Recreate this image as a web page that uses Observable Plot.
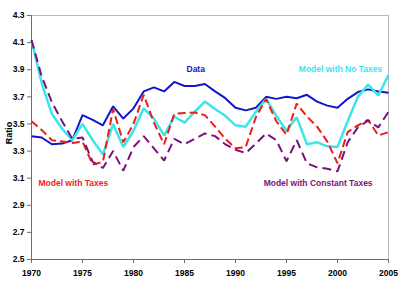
<!DOCTYPE html>
<html>
<head>
<meta charset="utf-8">
<script src="https://cdn.jsdelivr.net/npm/d3@7"></script>
<script src="https://cdn.jsdelivr.net/npm/@observablehq/plot@0.6"></script>
<style>
  html, body { margin: 0; padding: 0; background: #fff; }
  #chart svg { display: block; }
</style>
</head>
<body>
<div id="chart"></div>
<script>
// Years 1970–2005
const years = [1970, 1971, 1972, 1973, 1974, 1975, 1976, 1977, 1978, 1979,
               1980, 1981, 1982, 1983, 1984, 1985, 1986, 1987, 1988, 1989,
               1990, 1991, 1992, 1993, 1994, 1995, 1996, 1997, 1998, 1999,
               2000, 2001, 2002, 2003, 2004, 2005];

// Observed ratio
const dataRatio = [3.41, 3.40, 3.35, 3.355, 3.38, 3.565, 3.53, 3.49, 3.63, 3.54,
                   3.615, 3.74, 3.77, 3.74, 3.81, 3.78, 3.78, 3.795, 3.74, 3.69,
                   3.62, 3.60, 3.62, 3.70, 3.685, 3.70, 3.69, 3.715, 3.665, 3.635,
                   3.62, 3.685, 3.735, 3.755, 3.74, 3.73];

// Model with no taxes
const noTaxes = [4.115, 3.80, 3.575, 3.465, 3.38, 3.50, 3.38, 3.275, 3.50, 3.33,
                 3.45, 3.615, 3.54, 3.415, 3.555, 3.51, 3.59, 3.665, 3.61, 3.56,
                 3.49, 3.48, 3.59, 3.685, 3.56, 3.45, 3.55, 3.35, 3.365, 3.335,
                 3.33, 3.52, 3.70, 3.79, 3.71, 3.86];

// Model with taxes
const withTaxes = [3.52, 3.455, 3.38, 3.37, 3.36, 3.37, 3.20, 3.22, 3.61, 3.365,
                   3.50, 3.715, 3.51, 3.35, 3.575, 3.58, 3.585, 3.565, 3.48, 3.39,
                   3.32, 3.33, 3.55, 3.685, 3.52, 3.42, 3.65, 3.555, 3.48, 3.37,
                   3.21, 3.44, 3.49, 3.53, 3.415, 3.44];

// Model with constant taxes
const constTaxes = [4.12, 3.85, 3.66, 3.52, 3.39, 3.40, 3.22, 3.175, 3.30, 3.155,
                    3.33, 3.41, 3.32, 3.23, 3.39, 3.35, 3.39, 3.43, 3.41, 3.35,
                    3.31, 3.285, 3.355, 3.43, 3.38, 3.225, 3.38, 3.21, 3.18, 3.17,
                    3.15, 3.365, 3.475, 3.525, 3.475, 3.59];

const xTicks = [1970, 1975, 1980, 1985, 1990, 1995, 2000, 2005];
const yTicks = [2.5, 2.7, 2.9, 3.1, 3.3, 3.5, 3.7, 3.9, 4.1, 4.3];

const series = [
  {name: "Data", values: dataRatio, color: "#1414c8", width: 2, dash: null},
  {name: "Model with No Taxes", values: noTaxes, color: "#3ae6ea", width: 2.5, dash: null},
  {name: "Model with Taxes", values: withTaxes, color: "#ee1c1c", width: 2, dash: "8,4"},
  {name: "Model with Constant Taxes", values: constTaxes, color: "#7a127e", width: 2, dash: "9,5"}
];

// Series name labels placed in data coordinates
const labels = [
  {name: "Data", year: 1986.1, value: 3.90},
  {name: "Model with No Taxes", year: 2000.3, value: 3.90},
  {name: "Model with Taxes", year: 1974.1, value: 3.065},
  {name: "Model with Constant Taxes", year: 1998.1, value: 3.065}
];

const rows = s => years.map((y, i) => ({year: y, value: s.values[i]}));
const colorOf = Object.fromEntries(series.map(s => [s.name, s.color]));

const chart = Plot.plot({
  width: 400,
  height: 293,
  marginLeft: 31,
  marginRight: 12,
  marginTop: 15,
  marginBottom: 34,
  style: {fontFamily: "'Liberation Sans', Arial, sans-serif", fontWeight: "bold", fontSize: "8.5px", color: "#000", background: "#fff"},
  x: {domain: [1970, 2005]},
  y: {domain: [2.5, 4.3]},
  marks: [
    // plot-area frame: light top and right edges, darker left and bottom axes
    Plot.ruleY([4.3], {stroke: "#b8b8b8", strokeWidth: 1}),
    Plot.ruleX([2005], {stroke: "#b8b8b8", strokeWidth: 1}),
    Plot.ruleX([1970], {stroke: "#6e6e6e", strokeWidth: 1}),
    Plot.ruleY([2.5], {stroke: "#6e6e6e", strokeWidth: 1}),
    Plot.axisY({ticks: yTicks, tickSize: 4, tickPadding: 3, stroke: "#6e6e6e", tickFormat: d3.format(".1f"), label: null}),
    Plot.axisX({ticks: xTicks, tickSize: 4, tickPadding: 6, stroke: "#6e6e6e", tickFormat: d => String(d), label: null}),
    ...series.map(s => Plot.line(rows(s), {
      x: "year", y: "value",
      stroke: s.color, strokeWidth: s.width,
      strokeDasharray: s.dash, strokeLinejoin: "miter", strokeLinecap: "butt"
    })),
    Plot.text(labels, {
      x: "year", y: "value", text: "name",
      fill: d => colorOf[d.name], fontSize: 8.5, fontWeight: "bold"
    }),
    Plot.text(["Ratio"], {
      frameAnchor: "left", dx: -22, y: [3.35], rotate: -90,
      fontSize: 9, fontWeight: "bold", fill: "#000"
    })
  ]
});

document.getElementById("chart").appendChild(chart);
</script>
</body>
</html>
